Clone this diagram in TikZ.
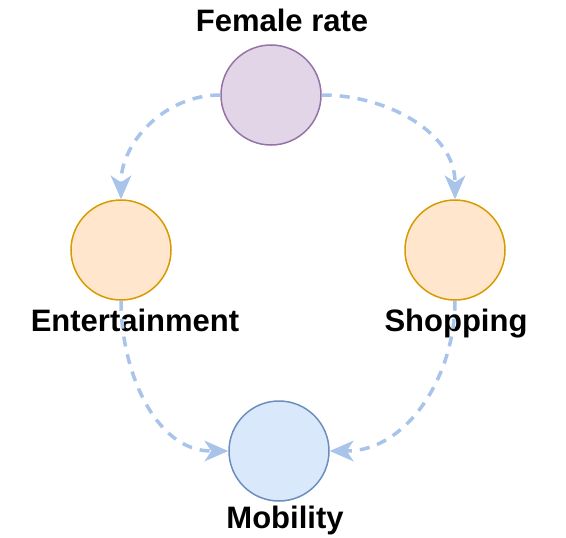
\documentclass[tikz,border=0pt]{standalone}
\usepackage{fontspec}
\setmainfont{Liberation Sans}
\usepackage{xcolor}
\usepackage{tikz}
\usetikzlibrary{arrows.meta}
\definecolor{femaleFill}{HTML}{E1D5E7}
\definecolor{femaleLine}{HTML}{9673A6}
\definecolor{activityFill}{HTML}{FFE6CC}
\definecolor{activityLine}{HTML}{D79B00}
\definecolor{mobilityFill}{HTML}{DAE8FC}
\definecolor{mobilityLine}{HTML}{6C8EBF}
\definecolor{linkBlue}{HTML}{A9C4EB}
\tikzset{
  factor/.style={
    circle,
    minimum size=100pt,
    inner sep=0pt,
    line width=1.5pt
  },
  label/.style={
    anchor=base,
    inner sep=0pt,
    font=\fontsize{31}{36}\selectfont\bfseries
  },
  link/.style={
    -{Stealth[length=24pt,width=21pt,inset=7pt,line width=0pt]},
    line width=3.5pt,
    dash pattern=on 10pt off 8pt,
    draw=linkBlue
  }
}

\begin{document}
\begin{tikzpicture}[x=1pt,y=-1pt]
  \useasboundingbox (0,0) rectangle (566,538);
  \node[factor,draw=femaleLine,fill=femaleFill] (female) at (271,95) {};
  \node[factor,draw=activityLine,fill=activityFill] (ent) at (121,250) {};
  \node[factor,draw=activityLine,fill=activityFill] (shop) at (455,250) {};
  \node[factor,draw=mobilityLine,fill=mobilityFill] (mob) at (279,451) {};
  \node[label] (femaleText) at (282,31) {Female rate};
  \node[label] (entText) at (135,331) {Entertainment};
  \node[label] (shopText) at (456,331) {Shopping};
  \node[label] (mobText) at (285,528) {Mobility};
  \draw[link] (female.west) to[out=180,in=90] (ent.north);
  \draw[link] (female.east) to[out=0,in=90] (shop.north);
  \draw[link] (ent.south) to[out=-90,in=180] (mob.west);
  \draw[link] (shop.south) to[out=-90,in=0] (mob.east);
\end{tikzpicture}
\end{document}
